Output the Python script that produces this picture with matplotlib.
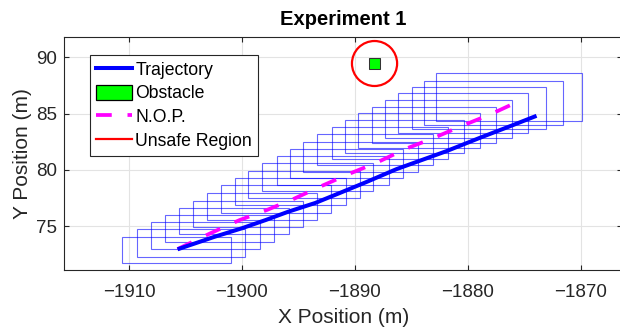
import numpy as np
import matplotlib
matplotlib.use('Agg')
import matplotlib.pyplot as plt
from matplotlib.patches import Rectangle, Circle
from matplotlib.lines import Line2D

plt.rcParams['font.family'] = ['Liberation Sans', 'DejaVu Sans']

# vehicle trajectory
traj_x = [-1905.7, -1902.4, -1900.0, -1897.9, -1895.9, -1893.5, -1891.3,
          -1889.0, -1886.3, -1881.9, -1878.9, -1876.0, -1873.9]
traj_y = [72.93, 74.05, 74.80, 75.53, 76.27, 77.05, 77.95,
          78.90, 80.06, 81.65, 82.85, 83.97, 84.80]

# nominal path (N.O.P.)
nop_x = [-1905.7, -1902.8, -1900.2, -1897.8, -1895.5, -1893.1, -1890.4,
         -1888.1, -1885.4, -1883.1, -1880.5, -1878.0, -1875.5]
nop_y = [72.95, 74.35, 75.53, 76.42, 77.37, 78.49, 79.68,
         80.62, 81.90, 82.79, 83.91, 84.92, 86.08]

# boxes along the path
box_xmin = [-1910.59, -1909.32, -1908.05, -1906.81, -1905.57, -1904.30, -1903.12, -1901.85,
            -1900.61, -1899.43, -1898.19, -1896.92, -1895.74, -1894.56, -1893.32, -1892.05,
            -1890.87, -1889.69, -1888.50, -1887.33, -1886.15, -1884.96, -1883.84, -1882.81]
box_xmax = [-1900.97, -1899.73, -1898.40, -1897.13, -1895.83, -1894.56, -1893.37, -1892.08,
            -1890.81, -1889.54, -1888.36, -1886.94, -1885.76, -1884.38, -1883.05, -1881.72,
            -1880.30, -1878.91, -1877.52, -1876.05, -1874.63, -1873.09, -1871.53, -1869.90]
box_ymin = [71.69, 72.27, 72.93, 73.61, 74.26, 74.94, 75.53, 76.13,
            76.84, 77.47, 78.08, 78.67, 79.24, 79.82, 80.39, 80.92,
            81.46, 81.90, 82.34, 82.84, 83.29, 83.59, 83.97, 84.32]
box_ymax = [74.00, 74.71, 75.33, 75.98, 76.57, 77.22, 77.90, 78.64,
            79.24, 79.91, 80.57, 81.22, 81.84, 82.49, 83.14, 83.77,
            84.41, 85.01, 85.60, 86.19, 86.79, 87.32, 87.90, 88.65]

obstacle_xy = (-1888.75, 88.95)
obstacle_size = 1.0
unsafe_center = (-1888.25, 89.45)
unsafe_radius = 2.0

x_ticks = [-1910, -1900, -1890, -1880, -1870]
y_ticks = [75, 80, 85, 90]

fig = plt.figure(figsize=(6.2, 3.29), dpi=100)
ax = fig.add_axes([64.3 / 620, 59 / 329, 557.7 / 620, 232.7 / 329])

for x0, x1, y0, y1 in zip(box_xmin, box_xmax, box_ymin, box_ymax):
    ax.add_patch(Rectangle((x0, y0), x1 - x0, y1 - y0, fill=False,
                           edgecolor=(0, 0, 1), linewidth=0.8, alpha=0.6, zorder=2))

ax.plot(traj_x, traj_y, color='blue', linewidth=2.9, zorder=4, solid_capstyle='butt')
ax.plot(nop_x, nop_y, color='magenta', linewidth=2.7, linestyle=(0, (4.2, 4.2)), zorder=3)

ax.add_patch(Rectangle(obstacle_xy, obstacle_size, obstacle_size, facecolor=(0, 1, 0),
                       edgecolor='#333333', linewidth=0.75, zorder=5))
ax.add_patch(Circle(unsafe_center, unsafe_radius, fill=False, edgecolor='red',
                    linewidth=1.6, zorder=5))

ax.set_xlim(-1915.73, -1866.33)
ax.set_ylim(71.09, 91.78)
ax.set_xticks(x_ticks)
ax.set_yticks(y_ticks)
ax.set_axisbelow(True)
ax.grid(True, color='#e3e3e3', linewidth=0.8)

for s in ax.spines.values():
    s.set_color('#262626')
    s.set_linewidth(0.8)
ax.tick_params(direction='in', length=3.5, width=0.8, colors='#262626',
               labelsize=13.5, top=True, right=True)
ax.tick_params(axis='x', pad=10)
ax.tick_params(axis='y', pad=5)

ax.set_xlabel('X Position (m)', fontsize=15, color='#262626', labelpad=5)
ax.set_ylabel('Y Position (m)', fontsize=15, color='#262626', labelpad=3)
ax.set_title('Experiment 1', fontsize=14.5, fontweight='bold', pad=8.5)

handles = [
    Line2D([], [], color='blue', linewidth=2.9),
    Rectangle((0, 0), 1, 1, facecolor=(0, 1, 0), edgecolor='black', linewidth=0.9),
    Line2D([], [], color='magenta', linewidth=2.7, linestyle=(0, (4.2, 4.2))),
    Line2D([], [], color='red', linewidth=1.6),
]
labels = ['Trajectory', 'Obstacle', 'N.O.P.', 'Unsafe Region']
leg = ax.legend(handles, labels, loc='upper left', bbox_to_anchor=(0.0461, 0.924),
                borderaxespad=0, fontsize=12.7, fancybox=False, framealpha=1,
                edgecolor='#262626', handlelength=2.05, handleheight=1.0,
                handletextpad=0.18, labelspacing=0.33, borderpad=0.33)
leg.get_frame().set_linewidth(0.8)
leg.set_zorder(10)

fig.savefig('out.png', dpi=100)
